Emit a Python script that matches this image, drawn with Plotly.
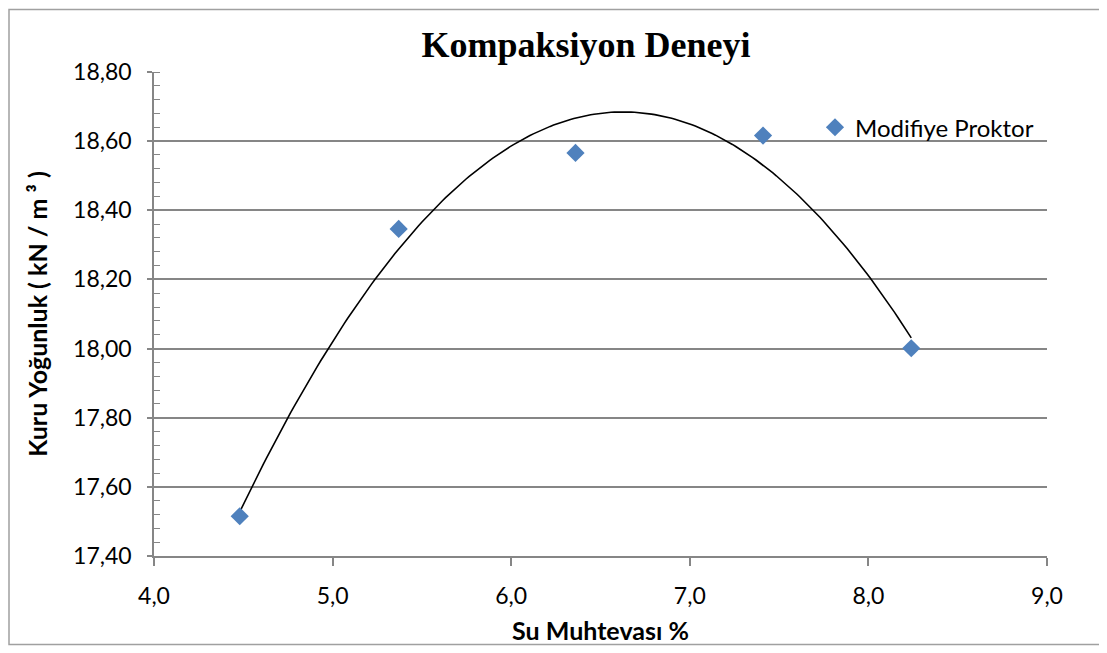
import numpy as np
import plotly.graph_objects as go

# Su muhtevası (%) ve kuru yoğunluk (kN/m3) ölçümleri
su_muhtevasi = [4.48, 5.37, 6.36, 7.41, 8.24]
kuru_yogunluk = [17.515, 18.346, 18.566, 18.616, 18.001]
seri_adi = "Modifiye Proktor"

# 2. dereceden polinom eğilim çizgisi (Excel trendline gibi)
katsayilar = np.polyfit(su_muhtevasi, kuru_yogunluk, 2)
x_fit = np.linspace(min(su_muhtevasi), max(su_muhtevasi), 200)
y_fit = np.polyval(katsayilar, x_fit)

GRAY = "#868686"

fig = go.Figure()
fig.add_trace(go.Scatter(
    x=x_fit, y=y_fit, mode="lines",
    line=dict(color="black", width=1.6),
    showlegend=False, hoverinfo="skip"
))
fig.add_trace(go.Scatter(
    x=su_muhtevasi, y=kuru_yogunluk, mode="markers", name=seri_adi,
    marker=dict(symbol="diamond", size=14, color="#4F81BD")
))

# sayfa 8px kenar boşluğu bıraktığı için figür biraz küçük
W, H = 1099, 645
ml, mr, mt, mb = 146, 60, 64, 94
pw, ph = W - ml - mr, H - mt - mb

# dış çerçeve
fig.add_shape(
    type="rect", xref="paper", yref="paper",
    x0=(1 - ml) / pw, x1=(1096 - ml) / pw,
    y0=(H - mb - 640) / ph, y1=(H - mb - 1) / ph,
    line=dict(color="#a0a0a0", width=1.5), layer="below"
)

fig.update_layout(
    width=W, height=H,
    margin=dict(l=ml, r=mr, t=mt, b=mb),
    paper_bgcolor="white", plot_bgcolor="white",
    separators=",.",
    font=dict(family="Lato", size=23, color="black"),
    title=dict(
        text="<b>Kompaksiyon Deneyi</b>",
        font=dict(family="Liberation Serif", size=36, color="black"),
        x=578 / W, xanchor="center", y=1 - 36 / H, yanchor="middle"
    ),
    legend=dict(
        x=(807 - ml) / pw, y=(H - mb - 120) / ph, xanchor="left", yanchor="middle",
        font=dict(family="Lato", size=24), bgcolor="rgba(0,0,0,0)",
        itemwidth=30
    ),
    xaxis=dict(
        range=[4.0, 9.0], dtick=1.0, tickformat=".1f",
        showgrid=False, zeroline=False,
        showline=True, linecolor=GRAY, linewidth=1.5,
        ticks="outside", ticklen=8, tickcolor=GRAY, tickwidth=1.5,
        ticklabelstandoff=11,
        title=dict(text="<b>Su Muhtevası %</b>", font=dict(size=25), standoff=14)
    ),
    yaxis=dict(
        range=[17.40, 18.80], dtick=0.2, tickformat=".2f",
        showgrid=True, gridcolor=GRAY, gridwidth=1.5, zeroline=False,
        showline=True, linecolor=GRAY, linewidth=1.5, mirror=False,
        ticks="outside", ticklen=5, tickcolor=GRAY, tickwidth=1.5,
        ticklabelstandoff=11,
        minor=dict(dtick=0.04, ticks="inside", ticklen=6, tickcolor=GRAY, tickwidth=1.2, showgrid=False),
        title=dict(text="<b>Kuru Yoğunluk ( kN / m ³ )</b>", font=dict(size=25), standoff=18)
    ),
)

fig.write_html("out.html")
